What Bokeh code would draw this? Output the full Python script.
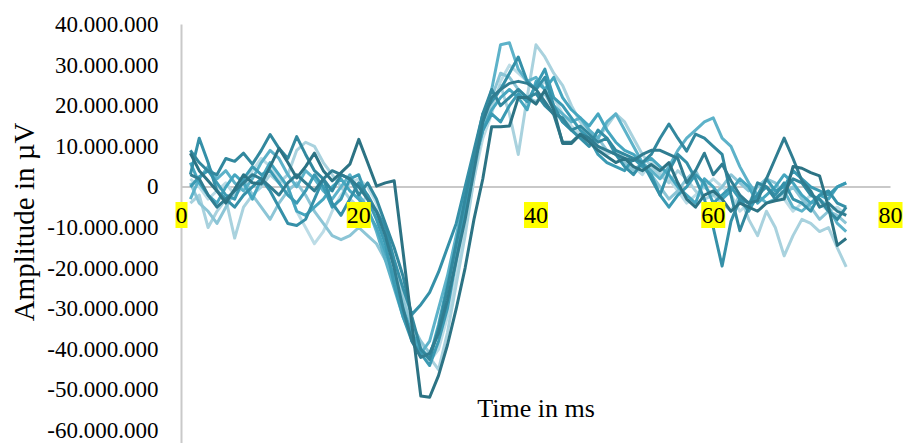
from bokeh.plotting import figure
from bokeh.models import (Range1d, Label, CustomJSTickFormatter, FixedTicker)
from bokeh.embed import file_html
from bokeh.resources import INLINE

# ---- data (amplitudes read in millions of µV) ----
UNIT = 1_000_000
time_ms = list(range(1, 76))

s0 = [8.3, 4.0, 1.5, -1.0, -4.0, -0.5, 3.0, 1.0, 0.7, 5.0,
      9.5, 6.0, 2.2, 5.0, 8.3, 4.0, 1.5, 3.5, 5.6, 11.7,
      6.0, 0.2, 1.0, 1.5, -16.0, -34.0, -51.5, -51.8, -46.5, -39.0,
      -30.0, -20.0, -8.0, 2.0, 14.8, 14.8, 15.0, 22.0, 22.0, 20.4,
      23.8, 19.0, 10.7, 10.7, 12.9, 11.0, 9.0, 7.5, 6.0, 7.0,
      5.0, 4.0, 5.5, 4.0, 6.0, 1.0, -3.0, -5.0, -2.0, -1.0,
      -3.0, -6.0, -4.0, -5.0, -6.0, -4.0, -3.4, -3.0, 5.0, 4.6,
      3.5, 2.7, -5.0, -14.4, -12.7]
s1 = [3.0, 2.0, -2.0, -5.0, -3.0, -1.0, 1.0, 3.0, 2.0, 0.0,
      -2.0, 1.0, 3.0, 1.0, -1.0, 2.0, 4.0, 3.0, 2.0, 0.0,
      -3.0, -6.0, -12.0, -20.0, -30.0, -38.0, -42.0, -41.0, -36.0, -28.0,
      -18.0, -8.0, 4.0, 16.0, 22.0, 24.0, 25.5, 26.0, 25.5, 24.0,
      21.0, 17.8, 11.0, 11.0, 13.0, 12.0, 10.0, 9.0, 8.0, 7.0,
      6.5, 8.0, 9.0, 9.0, 8.0, 7.0, 1.0, 4.0, 8.3, 3.0,
      5.6, 1.5, -2.0, -4.0, -3.4, 2.0, 7.0, 12.0, 7.0, 1.5,
      -1.0, -5.0, -4.0, -6.0, -7.0]
s2 = [9.0, 6.0, 3.9, 3.0, 7.0, 6.3, 8.3, 5.6, 9.0, 12.9,
      9.5, 7.0, 12.4, 8.0, 4.0, 2.0, -1.0, 3.0, 2.0, -2.0,
      1.0, -3.0, -9.0, -15.0, -22.0, -32.0, -40.0, -42.5, -35.0, -25.0,
      -14.0, -3.0, 8.0, 18.0, 24.0, 20.0, 22.0, 24.0, 22.0, 23.0,
      20.0, 18.0, 17.0, 14.0, 15.0, 13.0, 11.0, 12.0, 9.0, 8.0,
      7.0, 6.0, 8.0, 12.0, 15.5, 12.0, 8.8, 13.0, 12.0, 10.0,
      8.0, -2.0, -10.8, -5.0, 1.0, 0.0, -3.0, -1.0, 2.0, 1.0,
      -2.0, -3.0, -6.0, -8.0, -5.0]
s3 = [3.0, 12.0, 6.0, -1.0, -3.0, -5.0, -2.0, 0.0, 2.0, -1.0,
      -5.0, -9.0, -9.5, -8.0, -3.0, 2.0, -4.0, -7.0, -3.0, 1.0,
      -2.0, -6.0, -10.0, -18.0, -25.0, -31.4, -29.0, -26.0, -21.0, -15.0,
      -9.0, 0.0, 9.0, 18.0, 21.0, 24.0, 28.0, 32.0, 26.0, 24.0,
      27.0, 20.0, 16.0, 14.0, 12.0, 10.0, 14.0, 12.0, 8.0, 5.0,
      3.0, 6.0, 2.0, -2.0, 4.0, 8.0, 6.0, 2.0, -3.0, -10.0,
      -19.5, -8.5, -3.0, -4.0, -2.0, 0.0, -2.0, 1.0, -3.0, -4.0,
      -6.0, -2.0, -1.0, -4.0, -5.0]
s4 = [0.0, 2.5, 4.0, 1.0, -2.0, -3.0, 2.0, 5.0, 3.0, 4.0,
      1.0, -2.0, -4.0, -1.0, 3.0, 0.0, -5.0, -3.0, 2.0, 3.0,
      -3.0, -8.0, -14.0, -24.0, -32.0, -38.0, -41.0, -44.0, -38.0, -30.0,
      -18.0, -6.0, 6.0, 14.0, 18.0, 16.0, 20.0, 23.0, 21.0, 25.0,
      29.0, 22.0, 20.0, 17.0, 14.0, 12.0, 8.0, 6.0, 5.0, 4.0,
      7.0, 5.0, 3.0, -2.0, -5.0, -2.0, 0.0, 3.0, 1.0, -4.0,
      -2.0, 0.0, -3.0, -6.0, -2.0, 2.0, -1.0, 0.0, 4.0, 2.0,
      0.0, -1.0, -2.0, 0.0, 1.0]
s5 = [6.0, 1.0, -2.0, -4.0, 0.0, 3.0, 1.0, -3.0, 2.0, 6.0,
      3.0, 0.0, -6.0, -7.0, -5.0, -3.0, 0.0, 2.0, -1.0, -3.0,
      -6.0, -10.0, -16.0, -22.0, -30.0, -36.0, -40.0, -42.0, -34.0, -24.0,
      -14.0, -4.0, 6.0, 14.0, 19.0, 22.0, 24.0, 22.0, 19.0, 26.0,
      24.0, 27.0, 22.0, 19.0, 17.0, 15.0, 18.0, 14.0, 11.0, 9.0,
      8.0, 6.0, 7.0, 5.0, 3.0, 0.0, -2.0, -4.0, 2.0, 0.0,
      -3.0, -1.0, 2.0, 0.0, -4.0, -2.0, 0.0, 3.0, 1.0, -2.0,
      -4.0, -2.0, -3.0, 0.0, 1.0]
s6 = [-3.0, 2.0, 5.0, 2.0, 4.0, 1.0, -1.0, 2.0, 6.0, 9.0,
      7.0, 3.0, 0.0, 4.0, 2.0, -1.0, -3.0, 0.0, 3.0, -2.0,
      -5.0, -11.0, -18.0, -25.0, -32.0, -37.0, -41.0, -38.0, -30.0, -22.0,
      -12.0, -2.0, 8.0, 16.0, 24.0, 35.0, 35.5, 29.0, 26.0, 27.0,
      24.0, 20.0, 18.0, 16.0, 17.0, 14.0, 12.0, 16.0, 18.0, 14.0,
      10.0, 6.0, 4.0, 2.0, 5.0, 9.0, 12.0, 14.0, 16.0, 17.0,
      12.0, 10.0, 5.0, 1.0, -2.0, -4.0, -3.0, -1.0, -5.0, -6.0,
      -4.0, -3.0, -5.0, -9.0, -11.0]
s7 = [1.0, -4.0, -6.0, -9.0, -5.0, -1.0, 2.0, -2.0, -5.0, -8.0,
      -4.0, -1.0, 1.0, -2.0, -6.0, -9.0, -12.0, -13.0, -12.0, -10.0,
      -12.0, -14.0, -18.0, -22.0, -28.0, -34.0, -38.0, -41.0, -36.0, -27.0,
      -17.0, -7.0, 4.0, 14.0, 22.0, 28.0, 27.0, 24.0, 22.0, 21.0,
      23.0, 19.0, 16.0, 14.0, 12.0, 10.0, 12.0, 9.0, 8.0, 6.0,
      4.0, 6.0, 3.0, 0.0, -3.0, -1.0, 2.0, 4.0, 0.0, -2.0,
      0.0, 3.0, 1.0, -1.0, 0.0, 2.0, 1.0, -2.0, 0.0, -3.0,
      -5.0, -8.0, -6.0, -7.0, -9.0]
s8 = [-4.0, -2.0, -10.0, -6.0, -3.0, -12.6, -5.0, -2.0, 0.0, 3.0,
      1.0, 3.0, 9.0, 11.0, 10.0, 6.0, 3.0, 0.0, -3.0, -5.0,
      -2.0, -7.0, -12.0, -20.0, -27.0, -33.0, -40.0, -42.0, -45.0, -36.0,
      -24.0, -12.0, 2.0, 14.0, 20.0, 25.0, 18.0, 8.0, 22.0, 35.0,
      32.0, 28.0, 25.0, 20.0, 16.0, 14.0, 12.0, 15.0, 18.0, 16.0,
      12.0, 8.0, 5.0, 3.0, 1.0, 4.0, 2.0, -1.0, -3.0, -2.0,
      -4.0, -6.0, -2.0, -8.0, -12.0, -6.0, -10.0, -17.0, -12.0, -8.0,
      -9.0, -11.0, -10.0, -15.0, -19.7]
s9 = [2.0, 0.0, -3.0, -1.0, 1.0, -2.0, 0.0, 4.0, 7.0, 5.0,
      2.0, 0.0, -6.0, -10.0, -14.0, -11.0, -6.0, -2.0, 1.0, 2.0,
      0.0, -4.0, -10.0, -18.0, -26.0, -34.0, -39.0, -43.0, -40.0, -32.0,
      -22.0, -10.0, 2.0, 12.0, 18.0, 26.0, 30.0, 28.0, 26.0, 24.0,
      26.0, 22.0, 18.0, 15.0, 13.0, 12.0, 10.0, 8.0, 9.0, 7.0,
      5.0, 3.0, 6.0, 4.0, 2.0, -1.0, -4.0, -2.0, 0.0, 2.0,
      0.0, -2.0, -6.0, -4.0, 0.0, 2.0, -1.0, -3.0, -6.0, -4.0,
      -2.0, -4.0, -6.0, -5.0, -7.0]

x_ticks = [0, 20, 40, 60, 80]
y_ticks = [-60, -50, -40, -30, -20, -10, 0, 10, 20, 30, 40]

# draw order: lightest first, darkest on top
series = [s9, s8, s7, s6, s5, s4, s3, s2, s1, s0]
colors = ["#BCDCE6", "#A9D2DE", "#8CC5D6", "#5DB2C9", "#46A6BF",
          "#3B9AB3", "#3590A8", "#32889E", "#307D91", "#2C7384"]

FONT = "Liberation Serif"
AXIS_GREY = "#C9C9C9"

# layout: frame spans px 165..905 horizontally and 0..443 vertically;
# x=0 sits at px 181, x=80 at px 890; y=40M at px 24, y=-60M at px 430
PX_X = (890 - 181) / 80.0
PX_Y = (430 - 24) / 100.0
x_start = -(181 - 165) / PX_X
x_end = 80 + (905 - 890) / PX_X
y_top = 40 + 24 / PX_Y
y_bottom = -60 - 13 / PX_Y

p = figure(width=905, height=443, output_backend="svg", toolbar_location=None,
           x_range=Range1d(x_start, x_end),
           y_range=Range1d(y_bottom * UNIT, y_top * UNIT),
           x_axis_location=None,
           min_border_left=165, min_border_right=0,
           min_border_top=0, min_border_bottom=0)
p.outline_line_color = None
p.xgrid.visible = False
p.ygrid.visible = False
p.background_fill_color = "white"
p.border_fill_color = "white"

# axis lines: horizontal at zero (0..80) and vertical at x=0 (down to the bottom)
p.line([x_ticks[0], x_ticks[-1]], [0, 0], line_color=AXIS_GREY, line_width=2)
p.line([0, 0], [y_bottom * UNIT, y_ticks[-1] * UNIT],
       line_color=AXIS_GREY, line_width=2)

for s, c in zip(series, colors):
    p.line(time_ms, [v * UNIT for v in s], line_color=c, line_width=3,
           line_join="round")

# y axis (labels only; its line is drawn at x=0 above)
ya = p.yaxis[0]
ya.ticker = FixedTicker(ticks=[t * UNIT for t in y_ticks])
ya.formatter = CustomJSTickFormatter(code=r"""
const n = Math.round(Math.abs(tick));
const s = n.toString().replace(/\B(?=(\d{3})+(?!\d))/g, ".");
return (tick < 0 ? "-" : "") + s;
""")
ya.axis_line_color = None
ya.major_tick_line_color = None
ya.minor_tick_line_color = None
ya.major_tick_out = 0
ya.major_tick_in = 0
ya.minor_tick_out = 0
ya.major_label_standoff = 7
ya.major_label_text_font = FONT
ya.major_label_text_font_size = "23px"
ya.major_label_text_color = "#000000"
ya.axis_label = "Amplitude in µV"
ya.axis_label_text_font = FONT
ya.axis_label_text_font_size = "29px"
ya.axis_label_text_font_style = "normal"
ya.axis_label_text_color = "#000000"
ya.axis_label_standoff = 4

# x tick labels with yellow highlight, sitting below the zero line
for t in x_ticks:
    p.add_layout(Label(x=t, y=0, text=str(t), text_align="center",
                       text_baseline="top", y_offset=-15,
                       text_font=FONT, text_font_size="24px",
                       text_color="#000000",
                       padding=dict(left=0, right=0, top=6, bottom=5),
                       background_fill_color="#FFFF00"))

p.add_layout(Label(x=40, y=-54.5 * UNIT, text="Time in ms",
                   text_align="center", text_baseline="middle",
                   text_font=FONT, text_font_size="26px",
                   text_color="#000000"))

open("out.html", "w").write(file_html(p, INLINE))
